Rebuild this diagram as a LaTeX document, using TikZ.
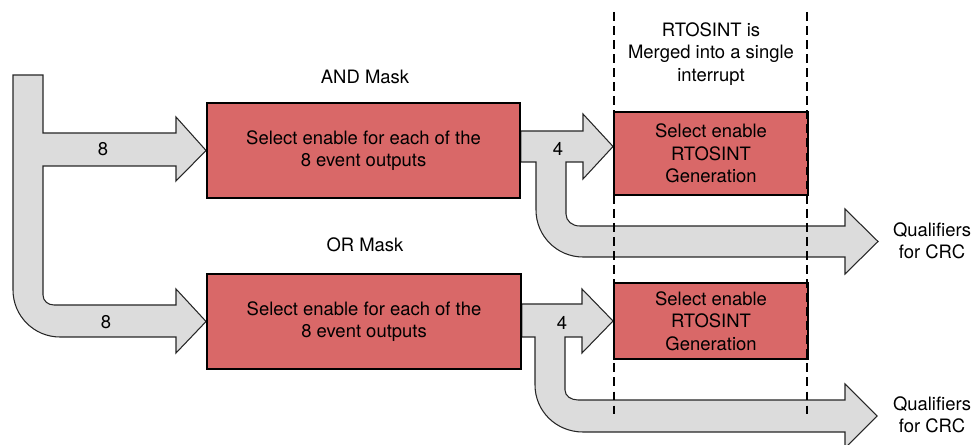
\documentclass[tikz,border=0pt]{standalone}
\usepackage{fontspec}
\setmainfont{TeX Gyre Heros}
\usepackage{xcolor}
\definecolor{maskred}{RGB}{217,104,104}
\definecolor{busgray}{RGB}{220,220,220}
\usepackage{tikz}
\usetikzlibrary{backgrounds}

\begin{document}
\begin{tikzpicture}[x=0.02cm,y=-0.02cm]
  \tikzstyle{maskbox}=[rectangle,draw=black,line width=1.1pt,fill=maskred,align=center,inner sep=0pt,font=\fontsize{10.5}{12.8}\selectfont]
  \tikzstyle{bus}=[draw=black!85,line width=0.6pt,fill=busgray,line join=miter]
  \tikzstyle{lbl}=[align=center,inner sep=0pt,font=\fontsize{10.5}{12.8}\selectfont]
  \tikzstyle{border}=[line width=0.6pt,dash pattern=on 5pt off 3pt]

  \useasboundingbox (0,0) rectangle (979,445);

  \node[maskbox,minimum width=6.26cm,minimum height=1.9cm] (andbox) at (363.5,150.5) {Select enable for each of the\\8 event outputs};
  \node[maskbox,minimum width=6.28cm,minimum height=1.9cm] (orbox) at (364,321.5) {Select enable for each of the\\8 event outputs};
  \node[maskbox,minimum width=3.88cm,minimum height=1.66cm] (rtosa) at (711,153.5) {Select enable\\RTOSINT\\Generation};
  \node[maskbox,minimum width=3.88cm,minimum height=1.52cm] (rtosb) at (711,321) {Select enable\\RTOSINT\\Generation};

  \begin{scope}[on background layer]
  \draw[bus] (13,75) -- (43,75) -- (43,133) -- (176,133) -- (176,117) -- (andbox.west) -- (176,181) -- (176,166) -- (43,166) -- (43,295)
    .. controls (43,301) and (48,305) .. (54,305) -- (176,305) -- (176,289) -- (orbox.west) -- (176,353) -- (176,337) -- (60,337)
    .. controls (34,337) and (13,316) .. (13,290) -- cycle;
  \draw[bus] (andbox.east |- 0,131) -- (583,131) -- (583,114) -- ([yshift=0.14cm]rtosa.west) -- (583,179) -- (583,162) -- (566,162) -- (566,214)
    .. controls (566,221) and (572,226) .. (580,226) -- (845,226) -- (845,209) -- (878,241.5) -- (845,274) -- (845,257) -- (583,257)
    .. controls (557,257) and (536,236) .. (536,210) -- (536,162) -- (andbox.east |- 0,162) -- cycle;
  \draw[bus] (orbox.east |- 0,304) -- (582,304) -- (582,289) -- (rtosb.west) -- (582,353) -- (582,337) -- (565,337) -- (565,390)
    .. controls (565,396) and (571,400) .. (578,400) -- (845,400) -- (845,384) -- (877,416) -- (845,448) -- (845,432) -- (583,432)
    .. controls (556,432) and (535,411) .. (535,385) -- (535,337) -- (orbox.east |- 0,337) -- cycle;
  \end{scope}

  \coordinate (bordera) at (614,12);
  \coordinate (borderb) at (807,12);
  \draw[border] (bordera) -- (bordera |- 0,418);
  \draw[border] (borderb) -- (borderb |- 0,418);

  \node[lbl] (andlbl) at (365,77) {AND Mask};
  \node[lbl] (orlbl) at (365,245) {OR Mask};
  \node[lbl] (merge) at (711,54) {RTOSINT is\\Merged into a single\\interrupt};
  \node[lbl] (crca) at (932,241) {Qualifiers\\for CRC};
  \node[lbl] (crcb) at (932,415) {Qualifiers\\for CRC};
  \node[lbl] (inand) at (103,149) {8};
  \node[lbl] (inor) at (106,322) {8};
  \node[lbl] (outand) at (558,149) {4};
  \node[lbl] (outor) at (562,323) {4};
\end{tikzpicture}
\end{document}
